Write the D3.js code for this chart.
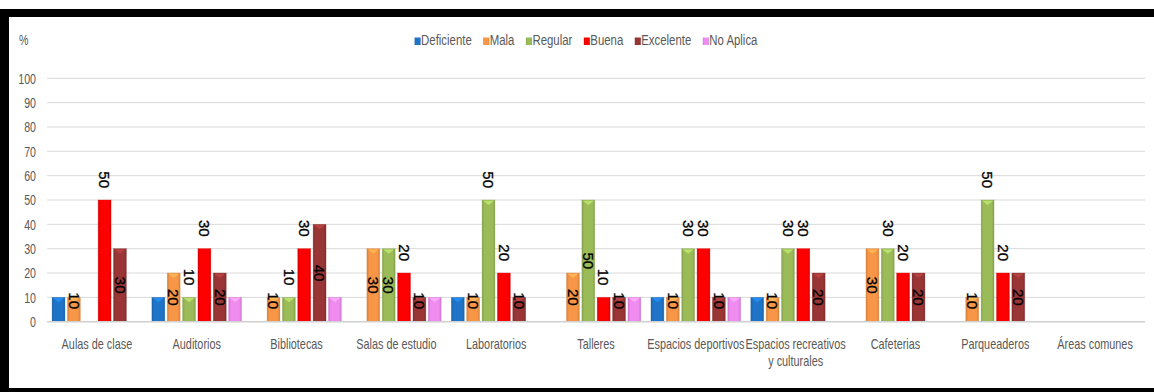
<!DOCTYPE html>
<html>
<head>
<meta charset="utf-8">
<script src="https://cdn.jsdelivr.net/npm/d3@7"></script>
<style>
  html, body { margin: 0; padding: 0; background: #fff; }
  svg { display: block; }
  text.cal { font-family: "Liberation Sans", Arial, sans-serif; }
</style>
</head>
<body>
<svg id="chart" width="1154" height="392"></svg>
<script>
const categories = ["Aulas de clase", "Auditorios", "Bibliotecas", "Salas de estudio", "Laboratorios", "Talleres",
  "Espacios deportivos", "Espacios recreativos y culturales", "Cafeterias", "Parqueaderos", "Áreas comunes"];
const seriesNames = ["Deficiente", "Mala", "Regular", "Buena", "Excelente", "No Aplica"];
const deficiente = [10, 10, null, null, 10, null, 10, 10, null, null, null];
const mala       = [10, 20, 10, 30, 10, 20, 10, 10, 30, 10, null];
const regular    = [null, 10, 10, 30, 50, 50, 30, 30, 30, 50, null];
const buena      = [50, 30, 30, 20, 20, 10, 30, 30, 20, 20, null];
const excelente  = [30, 20, 40, 10, 10, 10, 10, 20, 20, 20, null];
const noAplica   = [null, 10, 10, 10, null, 10, 10, null, null, null, null];
const yTicks = [0, 10, 20, 30, 40, 50, 60, 70, 80, 90, 100];
const yAxisTitle = "%";
// label mode per series: none / center / outside
const labelModes = ["none", "center", "outside", "outside", "center", "none"];
const regularLabelInside = ["Salas de estudio", "Talleres"];
const colors = ["#1f74c8", "#f79646", "#9bbb59", "#ff0000", "#993535", "#f08cf0"];

const seriesValues = [deficiente, mala, regular, buena, excelente, noAplica];

const svg = d3.select("#chart");
const W = 1154, H = 392;
const NARROW = 0.76; // horizontal squeeze to mimic a condensed font

// frame
svg.append("rect").attr("x", 0).attr("y", 9).attr("width", W).attr("height", 8).attr("fill", "#000");
svg.append("rect").attr("x", 0).attr("y", 9).attr("width", 9).attr("height", H - 9).attr("fill", "#000");
svg.append("rect").attr("x", 0).attr("y", 388).attr("width", W).attr("height", 4).attr("fill", "#000");

const plot = { left: 47, right: 1145, top: 78.3, bottom: 321.7 };
const y = d3.scaleLinear().domain([0, 100]).range([plot.bottom, plot.top]);
const x0 = d3.scaleBand().domain(categories).range([plot.left, plot.right]).paddingInner(0).paddingOuter(0);
const x1 = d3.scaleBand().domain(seriesNames).range([0, x0.bandwidth()]).paddingInner(0.16).paddingOuter(0.33);

// gradients
const defs = svg.append("defs");
colors.forEach((c, i) => {
  const g = defs.append("linearGradient").attr("id", "grad" + i).attr("x1", "0").attr("x2", "1").attr("y1", "0").attr("y2", "0");
  const dark = d3.color(c).darker(0.45);
  g.append("stop").attr("offset", "0%").attr("stop-color", dark);
  g.append("stop").attr("offset", "18%").attr("stop-color", c);
  g.append("stop").attr("offset", "82%").attr("stop-color", c);
  g.append("stop").attr("offset", "100%").attr("stop-color", dark);
});

// gridlines
svg.append("g").selectAll("line").data(yTicks.filter(t => t > 0)).join("line")
  .attr("x1", plot.left).attr("x2", plot.right)
  .attr("y1", d => y(d)).attr("y2", d => y(d))
  .attr("stroke", "#d9d9d9").attr("stroke-width", 1);

// y tick labels
const yAxis = d3.axisLeft(y).tickValues(yTicks).tickSize(0).tickPadding(0);
const yg = svg.append("g").attr("transform", "translate(36,0)").call(yAxis);
yg.select(".domain").remove();
yg.attr("font-family", null).attr("font-size", null);
yg.selectAll("text").attr("class", "cal").attr("font-size", 14).attr("fill", "#595959")
  .attr("x", 0).attr("dy", "0.35em").attr("transform", `scale(${NARROW},1)`);

svg.append("text").attr("class", "cal").attr("font-size", 14).attr("fill", "#595959")
  .attr("transform", `translate(19,45) scale(${NARROW},1)`).text(yAxisTitle);

// bars
const barData = [];
seriesValues.forEach((vals, si) => {
  vals.forEach((v, ci) => {
    if (v != null) barData.push({ series: seriesNames[si], si, cat: categories[ci], value: v });
  });
});

const bars = svg.append("g");
bars.selectAll("rect").data(barData).join("rect")
  .attr("x", d => x0(d.cat) + x1(d.series))
  .attr("y", d => y(d.value))
  .attr("width", x1.bandwidth())
  .attr("height", d => y(0) - y(d.value))
  .attr("fill", d => `url(#grad${d.si})`)
  .attr("stroke", d => d3.color(colors[d.si]).darker(0.3))
  .attr("stroke-opacity", 0.5)
  .attr("stroke-width", 0.6);

// top bevel highlight
bars.selectAll("path").data(barData).join("path")
  .attr("d", d => {
    const bx = x0(d.cat) + x1(d.series), bw = x1.bandwidth(), by = y(d.value);
    return `M${bx + 1},${by + 0.7}L${bx + bw - 1},${by + 0.7}L${bx + bw / 2},${by + 5}Z`;
  })
  .attr("fill", d => d3.color(colors[d.si]).brighter(0.6))
  .attr("opacity", 0.85);

// axis baseline
svg.append("line").attr("x1", plot.left).attr("x2", plot.right)
  .attr("y1", y(0)).attr("y2", y(0)).attr("stroke", "#d0d0d0").attr("stroke-width", 1.5);

// data labels (rotated 90°)
const labels = svg.append("g");
barData.forEach(d => {
  let mode = labelModes[d.si];
  if (mode === "none") return;
  if (d.series === "Regular" && regularLabelInside.includes(d.cat)) mode = "center";
  const cx = x0(d.cat) + x1(d.series) + x1.bandwidth() / 2;
  let cy, anchor;
  if (mode === "outside") {
    cy = y(d.value) - 12; anchor = "end";
  } else {
    cy = Math.min((y(d.value) + y(0)) / 2, y(0) - 21); anchor = "middle";
  }
  labels.append("text")
    .attr("transform", `translate(${cx},${cy}) rotate(90)`)
    .attr("text-anchor", anchor)
    .attr("dy", "0.35em")
    .attr("font-family", "Liberation Sans, Arial, sans-serif")
    .attr("font-size", 15)
    .attr("fill", "#000")
    .attr("stroke", "#000")
    .attr("stroke-width", 0.3)
    .text(d.value);
});

// category labels with wrap
const catG = svg.append("g");
categories.forEach(c => {
  const cx = x0(c) + x0.bandwidth() / 2;
  const t = catG.append("text").attr("class", "cal").attr("font-size", 14.3).attr("fill", "#595959")
    .attr("text-anchor", "middle").attr("transform", `translate(${cx},349) scale(${NARROW},1)`);
  const words = c.split(" ");
  let line = [];
  let tspan = t.append("tspan").attr("x", 0).attr("dy", 0);
  words.forEach(w => {
    line.push(w);
    tspan.text(line.join(" "));
    if (tspan.node().getComputedTextLength() * NARROW > 105 && line.length > 1) {
      line.pop();
      tspan.text(line.join(" "));
      line = [w];
      tspan = t.append("tspan").attr("x", 0).attr("dy", 17).text(w);
    }
  });
});

// legend
const legend = svg.append("g");
const items = seriesNames.map((s, i) => {
  const g = legend.append("g");
  g.append("rect").attr("x", 0).attr("y", -7.5).attr("width", 6).attr("height", 7.5)
    .attr("fill", `url(#grad${i})`);
  const t = g.append("text").attr("class", "cal").attr("font-size", 15).attr("fill", "#595959")
    .attr("transform", `translate(6.5,0) scale(${NARROW},1)`).text(s);
  return { g, w: 6.5 + t.node().getComputedTextLength() * NARROW };
});
const gap = 11.5;
const total = d3.sum(items, d => d.w) + gap * (items.length - 1);
let lx = 586 - total / 2;
items.forEach(it => {
  it.g.attr("transform", `translate(${lx},45)`);
  lx += it.w + gap;
});
</script>
</body>
</html>
